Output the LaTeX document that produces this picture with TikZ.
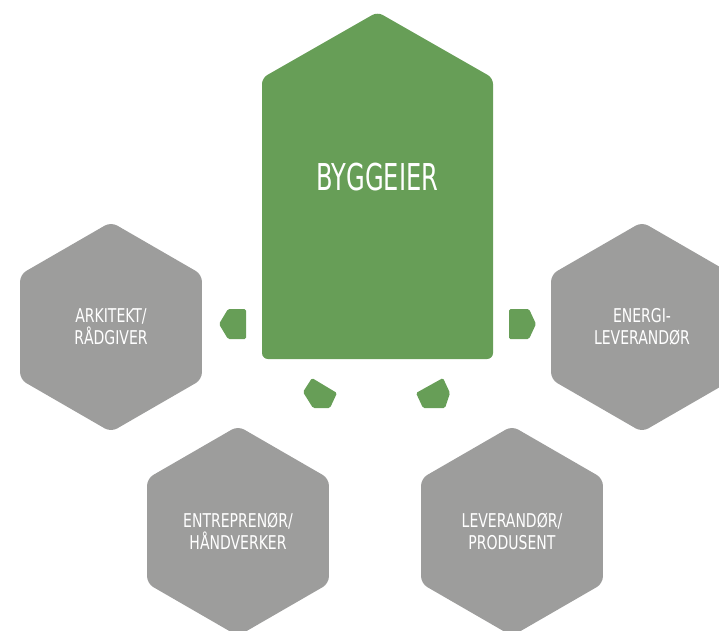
\documentclass[tikz,border=0pt]{standalone}
\usepackage{fontspec}
\usepackage{tikz}
\usetikzlibrary{shapes.geometric}
\newfontfamily\hexfont[FakeStretch=0.82]{DejaVu Sans Condensed}
\newfontfamily\ownerfont[FakeStretch=0.725]{DejaVu Sans Condensed}
\definecolor{ownergreen}{RGB}{103,158,87}
\definecolor{partgrey}{RGB}{157,157,156}

\begin{document}
\begin{tikzpicture}[x=1pt, y=-1pt,
    party/.style={regular polygon, regular polygon sides=6, shape border rotate=90,
      minimum size=210pt, inner sep=0pt, fill=partgrey, rounded corners=7pt,
      text=white, align=center, font=\hexfont\fontsize{19}{22}\selectfont},
    pointer/.style={fill=ownergreen, rounded corners=1.5pt}]
  \useasboundingbox (0,0) rectangle (719,630);
  \clip (0,0) rectangle (719,630);

  % byggeier
  \fill[ownergreen, rounded corners=6pt]
    (262,359) -- (262,78) -- (377.5,12) -- (493,78) -- (493,359) -- cycle;
  \node[text=white, font=\ownerfont\fontsize{37}{42}\selectfont] (owner) at (377.5,177) {BYGGEIER};

  % the other parties
  \node[party] (architect) at (111,327) {ARKITEKT/\\RÅDGIVER};
  \node[party] (energy) at (642,327) {ENERGI-\\LEVERANDØR};
  \node[party] (contractor) at (238,531) {ENTREPRENØR/\\HÅNDVERKER};
  \node[party] (supplier) at (512,531) {LEVERANDØR/\\PRODUSENT};

  % pointers
  \fill[pointer] (246,309) -- (228,309) -- (219,324) -- (228,339) -- (246,339) -- cycle;
  \fill[pointer] (509,309) -- (529,309) -- (536,324) -- (529,339) -- (509,339) -- cycle;
  \fill[pointer] (312,378) -- (337,393) -- (330,408) -- (313,408) -- (303,392) -- cycle;
  \fill[pointer] (443,378) -- (450,393) -- (445,408) -- (423,408) -- (416,393) -- cycle;
\end{tikzpicture}
\end{document}
